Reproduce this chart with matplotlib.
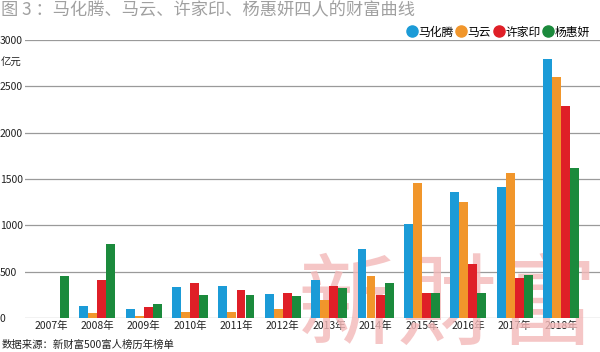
import matplotlib
matplotlib.use("Agg")
import matplotlib.pyplot as plt
import numpy as np
from matplotlib.lines import Line2D

plt.rcParams['font.family'] = ['Noto Sans CJK SC', 'DejaVu Sans']

years = ['2007年', '2008年', '2009年', '2010年', '2011年', '2012年',
         '2013年', '2014年', '2015年', '2016年', '2017年', '2018年']
names = ['马化腾', '马云', '许家印', '杨惠妍']
ma_huateng = [0, 125, 100, 330, 345, 255, 405, 740, 1010, 1365, 1410, 2795]
ma_yun = [0, 55, 25, 70, 70, 100, 195, 455, 1460, 1255, 1560, 2605]
xu_jiayin = [0, 415, 115, 380, 300, 265, 350, 245, 270, 585, 435, 2290]
yang_huiyan = [455, 800, 155, 250, 245, 235, 325, 380, 270, 275, 465, 1620]
series = [ma_huateng, ma_yun, xu_jiayin, yang_huiyan]
colors = ['#1b9bd7', '#f1962b', '#df1f27', '#1b8a3c']
yticks = [0, 500, 1000, 1500, 2000, 2500, 3000]

fig = plt.figure(figsize=(6, 3.52), dpi=100)
ax = fig.add_axes([25/600, 1 - 318/352, 1 - 25/600, (318 - 40)/352])

x = np.arange(len(years))
w = 0.195
for i, (vals, c) in enumerate(zip(series, colors)):
    ax.bar(x + (i - 1.5) * w, vals, width=w * 0.98, color=c, zorder=3, linewidth=0)

ax.set_xlim(-0.56, 11.84)
ax.set_ylim(0, 3000)
ax.set_yticks(yticks)
ax.set_yticklabels([str(v) for v in yticks], ha='left')
ax.tick_params(axis='y', length=0, pad=18, labelsize=7.5, colors='#222222')
ax.set_xticks(x)
ax.set_xticklabels(years)
ax.tick_params(axis='x', length=0, pad=2, labelsize=7.5, colors='#222222')
for s in ax.spines.values():
    s.set_visible(False)
ax.grid(axis='y', color='#9a9a9a', linewidth=0.9, zorder=1)
ax.set_axisbelow(True)

# watermark (behind the bars)
ax.text(0.747, 0.125, '新財富', fontsize=72, color='#f3b8b8', alpha=0.8,
        ha='center', va='center', zorder=2,
        transform=fig.transFigure, clip_on=False)

fig.text(0.002, 1 - 10/352, '图 3 ：马化腾、马云、许家印、杨惠妍四人的财富曲线', fontsize=12.4,
         color='#a0a0a0', ha='left', va='center')
fig.text(0.002, 1 - 63/352, '亿元', fontsize=7.5, color='#222222', ha='left', va='center')
fig.text(0.002, 1 - 345/352, '数据来源：新财富500富人榜历年榜单', fontsize=7.5,
         color='#222222', ha='left', va='center')

handles = [Line2D([], [], marker='o', linestyle='none', markersize=8,
                  markerfacecolor=c, markeredgecolor=c) for c in colors]
fig.legend(handles, names, loc='center right', bbox_to_anchor=(0.995, 1 - 32/352),
           ncol=4, frameon=False, fontsize=8.5, handletextpad=0.1,
           columnspacing=0.2, handlelength=0.9, borderpad=0.1)

fig.savefig('out.png', dpi=100)
